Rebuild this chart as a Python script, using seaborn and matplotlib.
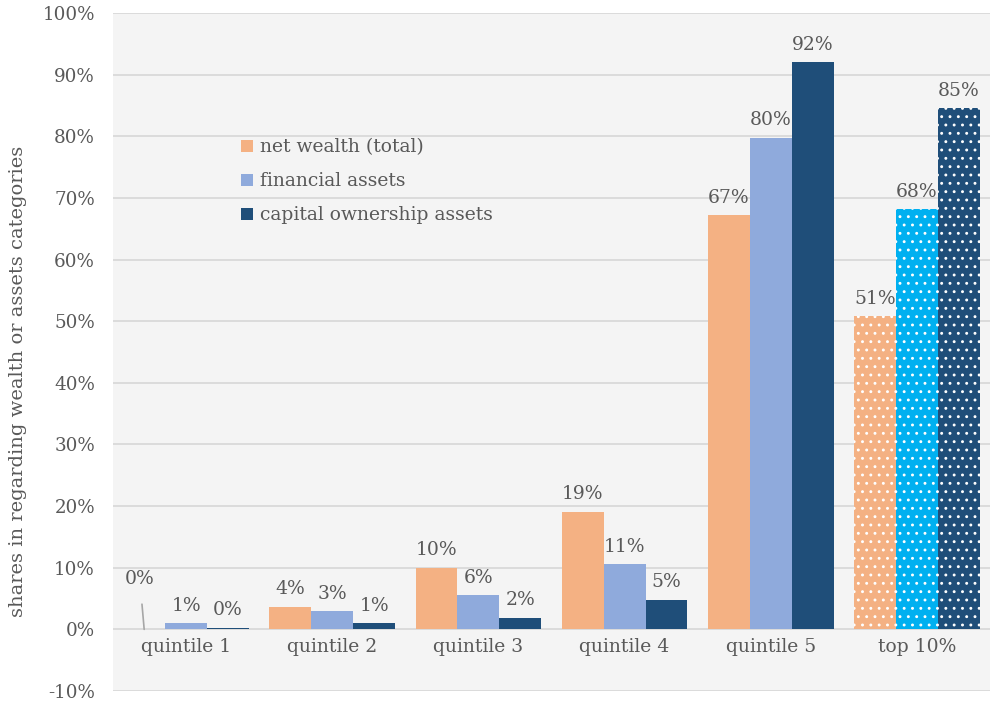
import numpy as np
import pandas as pd
import matplotlib
matplotlib.use("Agg")
import matplotlib.pyplot as plt
import seaborn as sns

categories = ["quintile 1", "quintile 2", "quintile 3", "quintile 4", "quintile 5", "top 10%"]
series = ["net wealth (total)", "financial assets", "capital ownership assets"]
net_wealth = [0.000, 0.037, 0.100, 0.191, 0.672, 0.508]
financial = [0.010, 0.029, 0.055, 0.106, 0.798, 0.682]
capital = [0.003, 0.010, 0.019, 0.048, 0.920, 0.846]
colors = ["#F4B183", "#8FAADC", "#1F4E79"]
top_colors = ["#F4B183", "#00B0F0", "#1F4E79"]
yticks = [-0.1, 0.0, 0.1, 0.2, 0.3, 0.4, 0.5, 0.6, 0.7, 0.8, 0.9, 1.0]

sns.set_theme(style="white")
plt.rcParams["font.family"] = ["DejaVu Serif"]
plt.rcParams["hatch.linewidth"] = 0.9
text_color = "#595959"
fs = 13.5

df = pd.DataFrame({
    "category": categories * 3,
    "series": [s for s in series for _ in categories],
    "value": net_wealth + financial + capital,
})

fig = plt.figure(figsize=(9.93, 7.01), dpi=100)
ax = fig.add_axes([113 / 993, 10 / 701, 877 / 993, 678 / 701])
ax.set_facecolor("#F4F4F4")

sns.barplot(data=df, x="category", y="value", hue="series", order=categories,
            hue_order=series, palette=colors, width=0.86, gap=0, ax=ax,
            saturation=1, linewidth=0, errorbar=None)

ax.set_ylim(-0.1, 1.0)
ax.set_xlim(-0.5, len(categories) - 0.5)
ax.set_yticks(yticks)
ax.set_yticklabels([f"{round(t * 100)}%" for t in yticks], color=text_color, fontsize=13.2)
ax.yaxis.grid(True, color="#D9D9D9", linewidth=1.3)
ax.set_axisbelow(True)
for s in ax.spines.values():
    s.set_visible(False)
ax.tick_params(axis="y", length=0, pad=13)
ax.tick_params(axis="x", length=0)
ax.set_xticks([])
ax.set_xlabel("")
ax.set_ylabel("shares in regarding wealth or assets categories", color=text_color,
              fontsize=14)
ax.yaxis.set_label_coords(-0.098, 0.456)

# category labels just below the zero line
for i, c in enumerate(categories):
    ax.text(i, -0.029, c, ha="center", va="center", fontsize=fs, color=text_color)

# top 10% bars: dotted pattern
top_idx = categories.index("top 10%")
for k, cont in enumerate(ax.containers):
    p = cont.patches[top_idx]
    p.set_facecolor(top_colors[k])
    p.set_edgecolor("white")
    p.set_hatch("..")
    p.set_linewidth(0)

# data labels
vals = [net_wealth, financial, capital]
for k, cont in enumerate(ax.containers):
    labels = [f"{round(v * 100)}%" for v in vals[k]]
    if k == 0:
        labels[0] = ""
    ax.bar_label(cont, labels=labels, padding=6, fontsize=fs, color=text_color)

# leader-line label for quintile 1 net wealth
p0 = ax.containers[0].patches[0]
bx = p0.get_x() + p0.get_width() / 2
ax.annotate(f"{round(net_wealth[0] * 100)}%", xy=(bx, net_wealth[0]),
            xytext=(bx - 0.03, net_wealth[0] + 0.081), ha="center", va="center",
            fontsize=fs, color=text_color,
            arrowprops=dict(arrowstyle="-", color="#A6A6A6", lw=1.2, shrinkA=9, shrinkB=0))

leg = ax.legend(loc="upper left", bbox_to_anchor=(0.127, 0.84), frameon=False,
                fontsize=fs, handlelength=0.6, handleheight=0.6, handletextpad=0.4,
                labelspacing=0.85, labelcolor=text_color)

fig.savefig("out.png", dpi=100, facecolor="white")
